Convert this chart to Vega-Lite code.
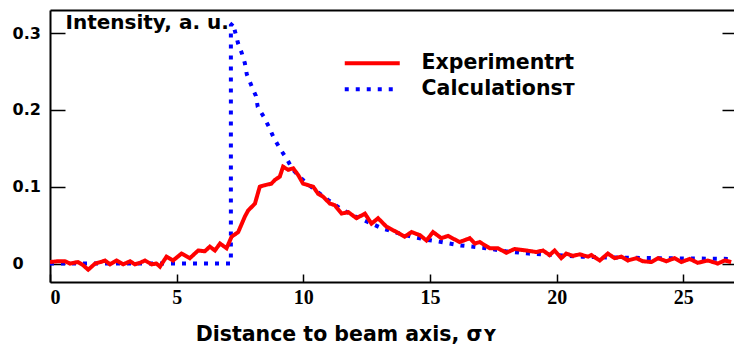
{
  "$schema": "https://vega.github.io/schema/vega-lite/v6.json",
  "width": 684,
  "height": 272,
  "autosize": {"type": "none"},
  "padding": {"left": 50, "top": 10, "right": 0, "bottom": 64},
  "background": "white",
  "config": {"view": {"stroke": null}},
  "datasets": {
    "calc": [
      {"x": 0, "y": 0}, {"x": 7.14, "y": 0}, {"x": 7.14, "y": 0.31}, {"x": 7.22, "y": 0.313},
      {"x": 7.42, "y": 0.287}, {"x": 7.57, "y": 0.274}, {"x": 7.69, "y": 0.261}, {"x": 7.77, "y": 0.246},
      {"x": 7.97, "y": 0.23}, {"x": 8.13, "y": 0.218}, {"x": 8.2, "y": 0.204}, {"x": 8.44, "y": 0.191},
      {"x": 8.64, "y": 0.178}, {"x": 8.84, "y": 0.163}, {"x": 9.07, "y": 0.15}, {"x": 9.35, "y": 0.136},
      {"x": 9.59, "y": 0.122}, {"x": 9.98, "y": 0.109}, {"x": 10.45, "y": 0.096}, {"x": 10.97, "y": 0.083},
      {"x": 11.44, "y": 0.072}, {"x": 12.0, "y": 0.062}, {"x": 12.62, "y": 0.053}, {"x": 13.1, "y": 0.046},
      {"x": 13.7, "y": 0.04}, {"x": 14.27, "y": 0.035}, {"x": 14.86, "y": 0.031}, {"x": 15.45, "y": 0.028},
      {"x": 16.1, "y": 0.024}, {"x": 17.2, "y": 0.02}, {"x": 18.0, "y": 0.016}, {"x": 18.9, "y": 0.013},
      {"x": 20, "y": 0.011}, {"x": 21, "y": 0.009}, {"x": 22, "y": 0.008}, {"x": 24, "y": 0.007}, {"x": 27, "y": 0.006}
    ],
    "exp": [
      {"x": 0, "y": 0.002}, {"x": 0.3, "y": 0.003}, {"x": 0.59, "y": 0.003}, {"x": 0.79, "y": 0.0},
      {"x": 1.1, "y": 0.002}, {"x": 1.3, "y": -0.002}, {"x": 1.51, "y": -0.008}, {"x": 1.78, "y": 0.0},
      {"x": 2.0, "y": 0.002}, {"x": 2.17, "y": 0.004}, {"x": 2.37, "y": -0.001}, {"x": 2.63, "y": 0.004},
      {"x": 2.89, "y": -0.001}, {"x": 3.16, "y": 0.003}, {"x": 3.35, "y": -0.001}, {"x": 3.55, "y": 0.001},
      {"x": 3.75, "y": 0.004}, {"x": 4.01, "y": -0.001}, {"x": 4.2, "y": 0.0}, {"x": 4.34, "y": -0.004},
      {"x": 4.6, "y": 0.009}, {"x": 4.86, "y": 0.004}, {"x": 5.19, "y": 0.013}, {"x": 5.52, "y": 0.007},
      {"x": 5.85, "y": 0.017}, {"x": 6.11, "y": 0.016}, {"x": 6.31, "y": 0.022}, {"x": 6.51, "y": 0.017},
      {"x": 6.71, "y": 0.026}, {"x": 6.97, "y": 0.02}, {"x": 7.17, "y": 0.035}, {"x": 7.43, "y": 0.041},
      {"x": 7.69, "y": 0.061}, {"x": 7.82, "y": 0.069}, {"x": 8.09, "y": 0.078}, {"x": 8.28, "y": 0.1},
      {"x": 8.48, "y": 0.102}, {"x": 8.74, "y": 0.104}, {"x": 8.88, "y": 0.109}, {"x": 9.07, "y": 0.113},
      {"x": 9.2, "y": 0.126}, {"x": 9.4, "y": 0.122}, {"x": 9.6, "y": 0.124}, {"x": 9.8, "y": 0.115},
      {"x": 9.99, "y": 0.104}, {"x": 10.19, "y": 0.102}, {"x": 10.39, "y": 0.1}, {"x": 10.58, "y": 0.091},
      {"x": 10.78, "y": 0.087}, {"x": 11.05, "y": 0.078}, {"x": 11.24, "y": 0.076}, {"x": 11.51, "y": 0.065},
      {"x": 11.77, "y": 0.067}, {"x": 12.1, "y": 0.059}, {"x": 12.43, "y": 0.065}, {"x": 12.69, "y": 0.052},
      {"x": 12.95, "y": 0.059}, {"x": 13.28, "y": 0.048}, {"x": 13.68, "y": 0.041}, {"x": 14.0, "y": 0.035},
      {"x": 14.27, "y": 0.041}, {"x": 14.6, "y": 0.037}, {"x": 14.86, "y": 0.03}, {"x": 15.12, "y": 0.041},
      {"x": 15.45, "y": 0.033}, {"x": 15.71, "y": 0.036}, {"x": 16.17, "y": 0.028}, {"x": 16.57, "y": 0.033},
      {"x": 16.77, "y": 0.026}, {"x": 16.96, "y": 0.028}, {"x": 17.36, "y": 0.02}, {"x": 17.68, "y": 0.02},
      {"x": 18.01, "y": 0.014}, {"x": 18.34, "y": 0.019}, {"x": 18.8, "y": 0.017}, {"x": 19.2, "y": 0.015},
      {"x": 19.46, "y": 0.017}, {"x": 19.72, "y": 0.011}, {"x": 19.92, "y": 0.017}, {"x": 20.18, "y": 0.007},
      {"x": 20.38, "y": 0.013}, {"x": 20.64, "y": 0.01}, {"x": 20.91, "y": 0.012}, {"x": 21.24, "y": 0.009},
      {"x": 21.37, "y": 0.011}, {"x": 21.7, "y": 0.004}, {"x": 22.02, "y": 0.013}, {"x": 22.29, "y": 0.007},
      {"x": 22.55, "y": 0.009}, {"x": 22.81, "y": 0.004}, {"x": 23.14, "y": 0.007}, {"x": 23.4, "y": 0.003},
      {"x": 23.74, "y": 0.002}, {"x": 24.0, "y": 0.007}, {"x": 24.33, "y": 0.003}, {"x": 24.65, "y": 0.007},
      {"x": 24.92, "y": 0.002}, {"x": 25.25, "y": 0.006}, {"x": 25.57, "y": 0.001}, {"x": 25.97, "y": 0.004},
      {"x": 26.36, "y": 0.0}, {"x": 26.63, "y": 0.004}, {"x": 26.89, "y": 0.002}
    ]
  },
  "resolve": {"axis": {"x": "independent", "y": "independent"}},
  "layer": [
    {
      "data": {"name": "calc"},
      "transform": [{"calculate": "'Calculationsт'", "as": "series"}],
      "mark": {"type": "line", "strokeWidth": 4, "clip": true},
      "encoding": {
        "x": {
          "field": "x", "type": "quantitative",
          "scale": {"domain": [0, 27], "nice": false, "zero": false},
          "axis": {
            "orient": "bottom", "values": [0, 5, 10, 15, 20, 25], "grid": false,
            "tickSize": -8, "tickWidth": 1.5, "tickColor": "black",
            "domainColor": "black", "domainWidth": 2,
            "labelFont": "Liberation Serif", "labelFontWeight": "bold", "labelFontSize": 20,
            "labelColor": "black", "labelPadding": 13, "labelBaseline": "top",
            "title": "Distance to beam axis, σʏ",
            "titleFont": "DejaVu Sans", "titleFontWeight": "bold", "titleFontSize": 20.5,
            "titleColor": "black", "titleX": 296, "titleY": 58, "titleAnchor": "middle",
            "titleAlign": "center", "titleBaseline": "alphabetic"
          }
        },
        "y": {
          "field": "y", "type": "quantitative",
          "scale": {"domain": [-0.024, 0.33], "nice": false, "zero": false},
          "axis": {
            "orient": "left", "values": [0, 0.1, 0.2, 0.3], "format": ".1~f", "grid": false,
            "tickSize": -15, "tickWidth": 1.5, "tickColor": "black",
            "domainColor": "black", "domainWidth": 2,
            "labelFont": "DejaVu Sans", "labelFontWeight": "bold", "labelFontSize": 16,
            "labelColor": "black", "labelAlign": "left", "labelBaseline": "middle", "labelPadding": 53,
            "title": "Intensity, a. u.",
            "titleFont": "DejaVu Sans", "titleFontWeight": "bold", "titleFontSize": 20,
            "titleColor": "black", "titleAngle": 0, "titleAlign": "left", "titleBaseline": "alphabetic",
            "titleX": 15, "titleY": 18
          }
        },
        "color": {
          "field": "series", "type": "nominal",
          "scale": {"domain": ["Experimentrt", "Calculationsт"], "range": ["#ff0000", "#0000ff"]},
          "legend": {
            "orient": "none", "legendX": 312, "legendY": 43, "title": null, "padding": 0,
            "symbolType": "M-5,0H5", "symbolSize": 121, "symbolStrokeWidth": 4,
            "labelFont": "DejaVu Sans", "labelFontWeight": "bold", "labelFontSize": 20.5,
            "labelColor": "black", "labelOffset": 39, "rowPadding": 5, "labelLimit": 400
          }
        },
        "strokeDash": {
          "field": "series", "type": "nominal",
          "scale": {"domain": ["Experimentrt", "Calculationsт"], "range": [[1, 0], [4, 7]]},
          "legend": {
            "orient": "none", "legendX": 312, "legendY": 43, "title": null, "padding": 0,
            "symbolType": "M-5,0H5", "symbolSize": 121, "symbolStrokeWidth": 4,
            "labelFont": "DejaVu Sans", "labelFontWeight": "bold", "labelFontSize": 20.5,
            "labelColor": "black", "labelOffset": 39, "rowPadding": 5, "labelLimit": 400
          }
        }
      }
    },
    {
      "data": {"name": "exp"},
      "transform": [{"calculate": "'Experimentrt'", "as": "series"}],
      "mark": {"type": "line", "strokeWidth": 4, "clip": true},
      "encoding": {
        "x": {
          "field": "x", "type": "quantitative",
          "scale": {"domain": [0, 27], "nice": false, "zero": false},
          "axis": {"orient": "top", "ticks": false, "labels": false, "grid": false, "title": null,
                   "domainColor": "black", "domainWidth": 2}
        },
        "y": {
          "field": "y", "type": "quantitative",
          "scale": {"domain": [-0.024, 0.33], "nice": false, "zero": false},
          "axis": {"orient": "right", "values": [0, 0.1, 0.2, 0.3], "labels": false, "domain": false,
                   "grid": false, "title": null, "tickSize": -12, "tickWidth": 1.5, "tickColor": "black"}
        },
        "color": {"field": "series", "type": "nominal"},
        "strokeDash": {"field": "series", "type": "nominal"}
      }
    }
  ]
}
